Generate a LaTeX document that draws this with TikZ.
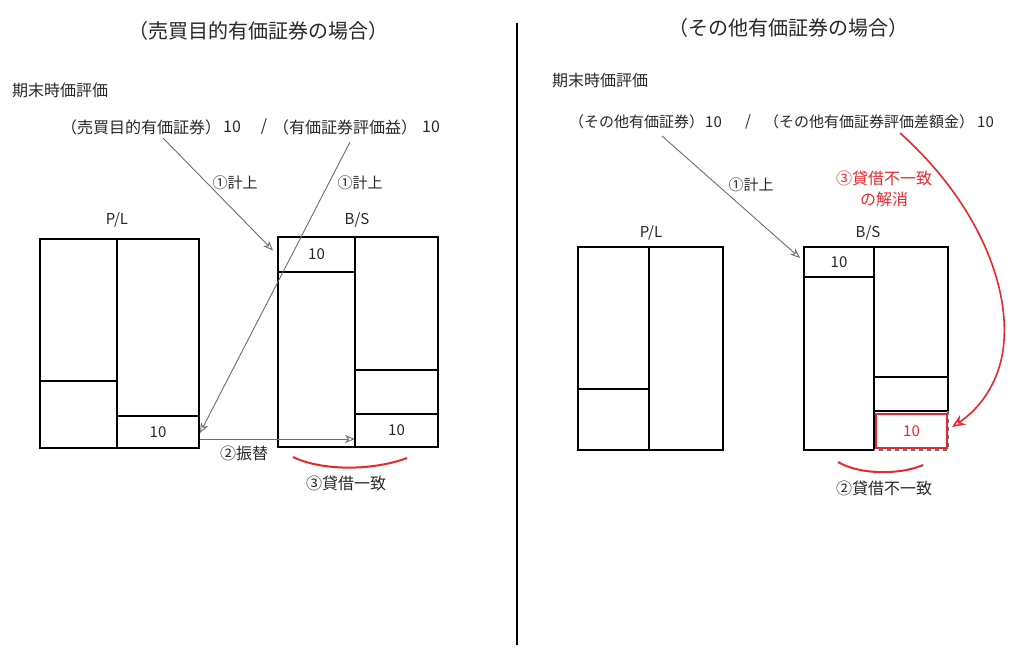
\documentclass[tikz,border=0pt]{standalone}
\usepackage{fontspec}
\setmainfont{Noto Sans CJK JP}
\usetikzlibrary{arrows.meta}
\definecolor{mred}{RGB}{232,40,44}
\definecolor{agray}{RGB}{110,110,110}
\definecolor{txt}{RGB}{40,40,40}
\begin{document}
\begin{tikzpicture}[x=1pt,y=-1pt,
  t15/.style={font=\fontsize{15}{18}\selectfont, text=txt, inner sep=0pt},
  t16/.style={font=\fontsize{16}{19}\selectfont, text=txt, inner sep=0pt},
  t20/.style={font=\fontsize{20}{24}\selectfont, text=txt, inner sep=0pt},
  cell/.style={draw=black, line width=2pt, inner sep=0pt, outer sep=0pt, anchor=north west,
    font=\fontsize{15}{18}\selectfont, text=txt},
  redcell/.style={cell, draw=mred, line width=1.5pt, text=mred},
  garrow/.style={draw=agray, line width=0.9pt, -{Stealth[open, length=10pt, width=8pt, inset=3pt]}},
  rarrow/.style={draw=mred, line width=1.6pt, -{Stealth[open, length=13pt, width=11pt, inset=4pt]}},
  smile/.style={draw=mred, line width=2pt},
]
\useasboundingbox (0,0) rectangle (1024,667);
\fill[white] (0,0) rectangle (1024,667);

% separator
\draw[line width=2.4pt, black] (517,23) -- (517,645);

% ===== Left side =====
\node[t20] (titleL) at (258,31) {（売買目的有価証券の場合）};
\node[t16, anchor=west] (kmL) at (12,90) {期末時価評価};
\node[t16, anchor=west] (jL1) at (61,127) {（売買目的有価証券）};
\node[t16, anchor=west] (jL1n) at (223,127) {10};
\node[t16] (jLs) at (264,127) {/};
\node[t16, anchor=west] (jL2) at (273,127) {（有価証券評価益）};
\node[t16, anchor=west] (jL2n) at (422,127) {10};
\node[t15] (kL1) at (235,183) {①計上};
\node[t15] (kL2) at (360,183) {①計上};
\node[t15] (plL) at (117,220) {P/L};
\node[t15] (bsL) at (357,220) {B/S};

% P/L left
\node[cell, minimum width=77pt, minimum height=142pt] (plA) at (40,239) {};
\node[cell, minimum width=77pt, minimum height=67pt] (plB) at (40,381) {};
\node[cell, minimum width=82pt, minimum height=177pt] (plC) at (117,239) {};
\node[cell, minimum width=82pt, minimum height=32pt] (plD) at (117,416) {10};
% B/S left
\node[cell, minimum width=77pt, minimum height=35pt] (bsA) at (278,237) {10};
\node[cell, minimum width=77pt, minimum height=175pt] (bsB) at (278,272) {};
\node[cell, minimum width=83pt, minimum height=133pt] (bsC) at (355,237) {};
\node[cell, minimum width=83pt, minimum height=44pt] (bsD) at (355,370) {};
\node[cell, minimum width=83pt, minimum height=33pt] (bsE) at (355,414) {10};

\coordinate (sL1) at (163,138);
\coordinate (sL2) at (350,142);
\draw[garrow] (sL1) -- ([shift={(-5,-4)}]bsA.west);
\draw[garrow] (sL2) -- ([shift={(1,1)}]plD.east);
\draw[garrow] ([shift={(1,7)}]plD.east) -- ([shift={(0,8.5)}]bsE.west);
\node[t16] (furikae) at (244,453) {②振替};
\coordinate (smL1) at (293,457);
\coordinate (smL2) at (407,458);
\draw[smile] (smL1) .. controls (322,471) and (372,471) .. (smL2);
\node[t16] (itchi) at (346,483) {③貸借一致};

% ===== Right side =====
\node[t20] (titleR) at (788,28) {（その他有価証券の場合）};
\node[t16, anchor=west] (kmR) at (552,80) {期末時価評価};
\node[t15, anchor=west] (jR1) at (569,122) {（その他有価証券）};
\node[t15, anchor=west] (jR1n) at (705,122) {10};
\node[t15] (jRs) at (748,122) {/};
\node[t15, anchor=west] (jR2) at (764,122) {（その他有価証券評価差額金）};
\node[t15, anchor=west] (jR2n) at (977,122) {10};
\node[t15] (kR1) at (751,185) {①計上};
\node[t16, text=mred, align=center, font=\fontsize{16}{21}\selectfont] (kaisho) at (884,188.5) {③貸借不一致\\の解消};
\node[t15] (plR) at (651,233) {P/L};
\node[t15] (bsR) at (868,233) {B/S};

% P/L right
\node[cell, minimum width=71pt, minimum height=142pt] (rplA) at (578,247) {};
\node[cell, minimum width=71pt, minimum height=61pt] (rplB) at (578,389) {};
\node[cell, minimum width=74pt, minimum height=203pt] (rplC) at (649,247) {};
% B/S right
\node[cell, minimum width=70pt, minimum height=30pt] (rbsA) at (804,247) {10};
\node[cell, minimum width=70pt, minimum height=173pt] (rbsB) at (804,277) {};
\node[cell, minimum width=74pt, minimum height=130pt] (rbsC) at (874,247) {};
\node[cell, minimum width=74pt, minimum height=34pt] (rbsD) at (874,377) {};
\draw[agray, line width=1.5pt, dash pattern=on 4pt off 4pt] (rbsD.south east) -- ++(0,39) -- (rbsB.south east);
\node[redcell, minimum width=71pt, minimum height=34pt] (rbsE) at (876,414) {10};

\coordinate (sR1) at (662,136);
\coordinate (sR2) at (900,133);
\draw[garrow] (sR1) -- ([shift={(-4,-4)}]rbsA.west);
\draw[rarrow] (sR2) .. controls (975,200) and (1012,285) .. (1003,350)
  .. controls (998,385) and (978,410) .. ([shift={(5,-4)}]rbsE.east);
\coordinate (smR1) at (838,462);
\coordinate (smR2) at (923,465);
\draw[smile] (smR1) .. controls (860,475) and (900,475) .. (smR2);
\node[t16] (fuitchi) at (884,488) {②貸借不一致};
\end{tikzpicture}
\end{document}
